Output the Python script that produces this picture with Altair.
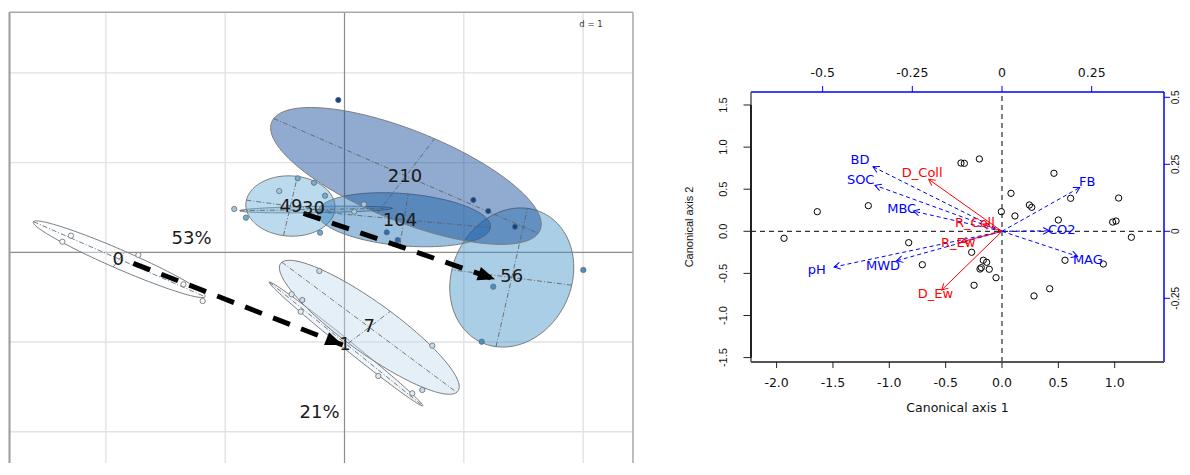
import math
import numpy as np
import pandas as pd
import altair as alt

# ====================== LEFT PANEL DATA (class ellipses) ======================
grp_names = ["0", "1", "7", "30", "49", "56", "104", "210"]
grp_colors = ["#F7FBFF", "#DEEBF7", "#C6DBEF", "#9ECAE1", "#6BAED6", "#4292C6", "#2171B5", "#084594"]
ell_cx = [-1.888, 0.013, 0.208, -0.238, -0.453, 1.402, 0.499, 0.515]
ell_cy = [-0.077, -1.022, -0.836, 0.477, 0.516, -0.281, 0.363, 0.851]
ell_a = [0.832, 0.943, 1.031, 0.640, 0.375, 0.782, 0.730, 1.280]
ell_b = [0.100, 0.045, 0.250, 0.035, 0.335, 0.510, 0.290, 0.480]
ell_angle = [-30.2, -47.0, -44.7, 1.2, -10.0, 80.3, -7.0, -30.0]
lab_x = [-1.896, 0.004, 0.208, -0.260, -0.448, 1.402, 0.465, 0.507]
lab_y = [-0.086, -1.033, -0.836, 0.479, 0.502, -0.279, 0.352, 0.836]

pt_group = ["0", "0", "0", "0", "0",
            "1", "1", "1", "1",
            "7", "7", "7", "7",
            "30", "30", "30", "30",
            "49", "49", "49", "49", "49",
            "56", "56", "56",
            "104", "104",
            "210", "210", "210", "210"]
pt_x = [-2.293, -2.365, -1.728, -1.189, -1.350,
        -0.443, -0.367, 0.283, 0.568,
        -0.211, 0.736, 0.652, -0.354,
        -0.924, 0.163, 0.082, -0.547,
        -0.392, -0.256, -0.163, -0.826, -0.205,
        2.002, 1.247, 1.150,
        0.354, 0.446,
        -0.052, 1.080, 1.205, 1.429]
pt_y = [0.185, 0.118, -0.030, -0.543, -0.357,
        -0.468, -0.662, -1.379, -1.572,
        -0.208, -1.041, -1.535, -0.532,
        0.483, 0.535, 0.453, 0.683,
        0.825, 0.776, 0.631, 0.386, 0.219,
        -0.197, -0.383, -0.997,
        0.223, 0.137,
        1.698, 0.583, 0.460, 0.285]

pct_text = ["53%", "21%"]
pct_x = [-1.282, -0.209]
pct_y = [0.145, -1.788]

traj_x0 = [-1.770, -0.343]
traj_y0 = [-0.123, 0.435]
traj_x1 = [-0.015, 1.262]
traj_y1 = [-1.033, -0.301]

grid_x = [-2, -1, 1, 2]
grid_y = [2, 1, -1, -2]
scale_note = "d = 1"

# ====================== RIGHT PANEL DATA (CCA biplot) ======================
site_x = [-1.934, -1.639, -1.186, -0.828, -0.707, -0.364, -0.334, -0.201, -0.269, -0.248,
          -0.166, -0.136, -0.184, -0.195, -0.113, -0.053, -0.006, 0.080, 0.115, 0.243,
          0.264, 0.284, 0.423, 0.461, 0.500, 0.559, 0.609, 0.899, 0.982, 1.012, 1.035, 1.148]
site_y = [-0.083, 0.233, 0.304, -0.135, -0.397, 0.811, 0.807, 0.859, -0.249, -0.641,
          -0.344, -0.368, -0.432, -0.448, -0.451, -0.551, 0.233, 0.451, 0.182, 0.312,
          0.285, -0.768, -0.682, 0.689, 0.134, -0.344, 0.392, -0.388, 0.110, 0.122, 0.395, -0.071]

env_names = ["BD", "SOC", "MBC", "pH", "MWD", "FB", "CO2", "MAG"]
env_x = [-1.145, -1.127, -0.787, -1.490, -0.935, 0.690, 0.420, 0.670]
env_y = [0.767, 0.546, 0.240, -0.424, -0.350, 0.520, 0.005, -0.297]
env_lx = [-1.260, -1.254, -0.890, -1.644, -1.056, 0.757, 0.530, 0.762]
env_ly = [0.849, 0.609, 0.263, -0.464, -0.412, 0.580, 0.015, -0.337]

resp_names = ["D_Coll", "R_Coll", "R_Ew", "D_Ew"]
resp_x = [-0.650, -0.170, -0.360, -0.535]
resp_y = [0.617, 0.085, -0.125, -0.697]
resp_lx = [-0.708, -0.240, -0.388, -0.590]
resp_ly = [0.689, 0.100, -0.135, -0.745]

bottom_ticks = [-2.0, -1.5, -1.0, -0.5, 0.0, 0.5, 1.0]
bottom_text = ["-2.0", "-1.5", "-1.0", "-0.5", "0.0", "0.5", "1.0"]
left_ticks = [-1.5, -1.0, -0.5, 0.0, 0.5, 1.0, 1.5]
left_text = ["-1.5", "-1.0", "-0.5", "0.0", "0.5", "1.0", "1.5"]
top_ticks = [-0.5, -0.25, 0.0, 0.25]
top_text = ["-0.5", "-0.25", "0", "0.25"]
right_ticks = [-0.25, 0.0, 0.25, 0.5]
right_text = ["-0.25", "0", "0.25", "0.5"]
x_title = "Canonical axis 1"
y_title = "Canonical axis 2"

# ====================== LAYOUT ======================
LW, LH = 632, 455
L_XDOM = [-2.8206, 2.4769]
L_YDOM = [-2.349, 2.7235]
L_FL, L_FR, L_FT = -2.808, 2.418, 2.676
L_FB = L_YDOM[0]

RW, RH = 502, 455
R_XDOM = [-2.8571, 1.5972]
R_YDOM = [-2.7518, 2.6520]
R_FL, R_FR, R_FT, R_FB = -2.2272, 1.4375, 1.6544, -1.5523
S_XDOM = [-0.89769, 0.50181]
S_YDOM = [-0.86455, 0.83321]

lsx = LW / (L_XDOM[1] - L_XDOM[0])
lsy = LH / (L_YDOM[1] - L_YDOM[0])
rsx = RW / (R_XDOM[1] - R_XDOM[0])
rsy = RH / (R_YDOM[1] - R_YDOM[0])


def screen_angle(x0, y0, x1, y1, sx, sy):
    return math.degrees(math.atan2(-(y1 - y0) * sy, (x1 - x0) * sx)) % 360


def QX(f, dom):
    return alt.X(f, type="quantitative", scale=alt.Scale(domain=dom, nice=False, zero=False), axis=None)


def QY(f, dom):
    return alt.Y(f, type="quantitative", scale=alt.Scale(domain=dom, nice=False, zero=False), axis=None)


def LX(f):
    return QX(f, L_XDOM)


def LY(f):
    return QY(f, L_YDOM)


# ---------------- left panel ----------------
vgrid = pd.DataFrame({"x": grid_x, "y0": L_FB, "y1": L_FT})
hgrid = pd.DataFrame({"y": grid_y, "x0": L_FL, "x1": L_FR})
left_layers = [
    alt.Chart(vgrid).mark_rule(color="#e2e2e2", strokeWidth=1.4).encode(x=LX("x"), y=LY("y0"), y2="y1"),
    alt.Chart(hgrid).mark_rule(color="#e2e2e2", strokeWidth=1.4).encode(y=LY("y"), x=LX("x0"), x2="x1"),
    alt.Chart(pd.DataFrame({"x": [0.0], "y0": [L_FB], "y1": [L_FT]})).mark_rule(color="#8c8c8c", strokeWidth=1.2).encode(x=LX("x"), y=LY("y0"), y2="y1"),
    alt.Chart(pd.DataFrame({"y": [0.0], "x0": [L_FL], "x1": [L_FR]})).mark_rule(color="#8c8c8c", strokeWidth=1.2).encode(y=LY("y"), x=LX("x0"), x2="x1"),
    alt.Chart(pd.DataFrame({"x": [L_FL], "y0": [L_FB], "y1": [L_FT]})).mark_rule(color="#9a9a9a", strokeWidth=2).encode(x=LX("x"), y=LY("y0"), y2="y1"),
    alt.Chart(pd.DataFrame({"x": [L_FR], "y0": [L_FB], "y1": [L_FT]})).mark_rule(color="#a8a8a8", strokeWidth=1.5).encode(x=LX("x"), y=LY("y0"), y2="y1"),
    alt.Chart(pd.DataFrame({"y": [L_FT], "x0": [L_FL], "x1": [L_FR]})).mark_rule(color="#a8a8a8", strokeWidth=1.5).encode(y=LY("y"), x=LX("x0"), x2="x1"),
]

tt = np.linspace(0, 2 * np.pi, 121)[:-1]
axis_rows = []
for g, col, cx, cy, a, b, ang in zip(grp_names, grp_colors, ell_cx, ell_cy, ell_a, ell_b, ell_angle):
    th = math.radians(ang)
    ex = cx + a * math.cos(th) * np.cos(tt) - b * math.sin(th) * np.sin(tt)
    ey = cy + a * math.sin(th) * np.cos(tt) + b * math.cos(th) * np.sin(tt)
    edf = pd.DataFrame({"x": ex, "y": ey, "i": np.arange(len(tt))})
    left_layers.append(
        alt.Chart(edf).mark_line(interpolate="linear-closed", fill=col, fillOpacity=0.45,
                                 stroke="#7d7d7d", strokeWidth=1)
        .encode(x=LX("x"), y=LY("y"), order="i:Q")
    )
    axis_rows.append(dict(x0=cx - a * math.cos(th), y0=cy - a * math.sin(th),
                          x1=cx + a * math.cos(th), y1=cy + a * math.sin(th)))
    if b > 0.06:
        axis_rows.append(dict(x0=cx + b * math.sin(th), y0=cy - b * math.cos(th),
                              x1=cx - b * math.sin(th), y1=cy + b * math.cos(th)))

left_layers.append(
    alt.Chart(pd.DataFrame(axis_rows)).mark_rule(color="#5a5a5a", strokeWidth=0.8, strokeDash=[5, 2, 1, 2])
    .encode(x=LX("x0"), y=LY("y0"), x2="x1", y2="y1")
)

pts = pd.DataFrame({"g": pt_group, "x": pt_x, "y": pt_y})
left_layers.append(
    alt.Chart(pts).mark_point(filled=True, size=28, stroke="#6a6a6a", strokeWidth=0.8, opacity=1)
    .encode(x=LX("x"), y=LY("y"),
            fill=alt.Fill("g:N", scale=alt.Scale(domain=grp_names, range=grp_colors), legend=None))
)

traj = pd.DataFrame({"x0": traj_x0, "y0": traj_y0, "x1": traj_x1, "y1": traj_y1})
traj["ang"] = [screen_angle(a, b, c, d, lsx, lsy) for a, b, c, d in zip(traj_x0, traj_y0, traj_x1, traj_y1)]
left_layers.append(
    alt.Chart(traj).mark_rule(color="black", strokeWidth=5, strokeDash=[18, 12])
    .encode(x=LX("x0"), y=LY("y0"), x2="x1", y2="y1")
)
left_layers.append(
    alt.Chart(traj).mark_point(shape="M 0 0 L -1 -0.4 L -1 0.4 Z", filled=True, color="black", size=1200, opacity=1)
    .encode(x=LX("x1"), y=LY("y1"), angle=alt.Angle("ang:Q", scale=None))
)

labs = pd.DataFrame({"t": grp_names, "x": lab_x, "y": lab_y})
left_layers.append(
    alt.Chart(labs).mark_text(font="DejaVu Sans", fontSize=18, color="#1a1a1a")
    .encode(x=LX("x"), y=LY("y"), text="t:N")
)
pct = pd.DataFrame({"t": pct_text, "x": pct_x, "y": pct_y})
left_layers.append(
    alt.Chart(pct).mark_text(font="DejaVu Sans", fontSize=18, color="#1a1a1a")
    .encode(x=LX("x"), y=LY("y"), text="t:N")
)
left_layers.append(
    alt.Chart(pd.DataFrame({"t": [scale_note], "x": [2.066], "y": [2.545]}))
    .mark_text(font="DejaVu Sans", fontSize=8.5, color="#333333")
    .encode(x=LX("x"), y=LY("y"), text="t:N")
)

left = alt.layer(*left_layers).properties(width=LW, height=LH)

# ---------------- right panel ----------------
def RX(f):
    return QX(f, R_XDOM)


def RY(f):
    return QY(f, R_YDOM)


def rule_v(x, y0, y1, **kw):
    return alt.Chart(pd.DataFrame({"x": [x], "y0": [y0], "y1": [y1]})).mark_rule(**kw).encode(x=RX("x"), y=RY("y0"), y2="y1")


def rule_h(y, x0, x1, **kw):
    return alt.Chart(pd.DataFrame({"y": [y], "x0": [x0], "x1": [x1]})).mark_rule(**kw).encode(y=RY("y"), x=RX("x0"), x2="x1")


bt = pd.DataFrame({"v": bottom_ticks, "t": bottom_text, "y0": R_FB, "y1": R_FB - 6 / rsy, "ly": R_FB - 20.7 / rsy})
lt = pd.DataFrame({"v": left_ticks, "t": left_text, "x0": R_FL, "x1": R_FL - 7.5 / rsx, "lx": R_FL - 27 / rsx})
titles_x = pd.DataFrame({"t": [x_title], "x": [R_FL + (R_FR - R_FL) / 2], "y": [R_FB - 46 / rsy]})
titles_y = pd.DataFrame({"t": [y_title], "x": [R_FL - 61 / rsx], "y": [R_FB + (R_FT - R_FB) / 2]})

right_layers = [
    rule_v(0.0, R_FB, R_FT, color="black", strokeWidth=1, strokeDash=[5, 4]),
    rule_h(0.0, R_FL, R_FR, color="black", strokeWidth=1, strokeDash=[5, 4]),
    rule_h(R_FT, R_FL, R_FR, color="blue", strokeWidth=1.5),
    rule_v(R_FR, R_FB, R_FT, color="blue", strokeWidth=1.5),
    rule_h(R_FB, R_FL, R_FR, color="#555555", strokeWidth=2),
    rule_v(R_FL, R_FB, R_FT, color="#555555", strokeWidth=1.5),
    rule_v(R_FL, left_ticks[0], left_ticks[-1], color="#222222", strokeWidth=2),
    alt.Chart(bt).mark_rule(color="#222222", strokeWidth=1).encode(x=RX("v"), y=RY("y0"), y2="y1"),
    alt.Chart(bt).mark_text(font="DejaVu Sans", fontSize=12.5, color="#111111", baseline="middle")
    .encode(x=RX("v"), y=RY("ly"), text="t:N"),
    alt.Chart(lt).mark_rule(color="#222222", strokeWidth=1).encode(y=RY("v"), x=RX("x0"), x2="x1"),
    alt.Chart(lt).mark_text(font="Liberation Sans", fontSize=11, color="#111111", angle=270, baseline="middle")
    .encode(y=RY("v"), x=RX("lx"), text="t:N"),
    alt.Chart(titles_x).mark_text(font="DejaVu Sans", fontSize=12.5, color="#111111", baseline="middle")
    .encode(x=RX("x"), y=RY("y"), text="t:N"),
    alt.Chart(titles_y).mark_text(font="Liberation Sans", fontSize=11, color="#111111", angle=270, baseline="middle")
    .encode(x=RX("x"), y=RY("y"), text="t:N"),
]

OPEN_HEAD = "M -1 -0.55 L 0 0 L -1 0.55"
env = pd.DataFrame({"t": env_names, "x0": 0.0, "y0": 0.0, "x1": env_x, "y1": env_y, "lx": env_lx, "ly": env_ly})
env["ang"] = [screen_angle(0, 0, a, b, rsx, rsy) for a, b in zip(env_x, env_y)]
resp = pd.DataFrame({"t": resp_names, "x0": 0.0, "y0": 0.0, "x1": resp_x, "y1": resp_y, "lx": resp_lx, "ly": resp_ly})
resp["ang"] = [screen_angle(0, 0, a, b, rsx, rsy) for a, b in zip(resp_x, resp_y)]

right_layers += [
    alt.Chart(env).mark_rule(color="blue", strokeWidth=1, strokeDash=[4, 3]).encode(x=RX("x0"), y=RY("y0"), x2="x1", y2="y1"),
    alt.Chart(env).mark_point(shape=OPEN_HEAD, filled=False, color="blue", strokeWidth=1, size=150, opacity=1)
    .encode(x=RX("x1"), y=RY("y1"), angle=alt.Angle("ang:Q", scale=None)),
    alt.Chart(resp).mark_rule(color="red", strokeWidth=1).encode(x=RX("x0"), y=RY("y0"), x2="x1", y2="y1"),
    alt.Chart(resp).mark_point(shape=OPEN_HEAD, filled=False, color="red", strokeWidth=1, size=150, opacity=1)
    .encode(x=RX("x1"), y=RY("y1"), angle=alt.Angle("ang:Q", scale=None)),
    alt.Chart(pd.DataFrame({"x": site_x, "y": site_y})).mark_point(shape="circle", filled=False, color="black", strokeWidth=1, size=40, opacity=1)
    .encode(x=RX("x"), y=RY("y")),
    alt.Chart(env).mark_text(font="DejaVu Sans", fontSize=13, color="blue").encode(x=RX("lx"), y=RY("ly"), text="t:N"),
    alt.Chart(resp).mark_text(font="DejaVu Sans", fontSize=13, color="red").encode(x=RX("lx"), y=RY("ly"), text="t:N"),
]
primary = alt.layer(*right_layers)

# secondary (top / right, blue) scale layers
tp = pd.DataFrame({"v": top_ticks, "t": top_text, "y0": R_FT, "y1": R_FT + 6 / rsy, "ly": R_FT + 18.7 / rsy})
top_layer = alt.layer(
    alt.Chart(tp).mark_rule(color="blue", strokeWidth=1).encode(x=QX("v", S_XDOM), y=QY("y0", R_YDOM), y2="y1"),
    alt.Chart(tp).mark_text(font="DejaVu Sans", fontSize=12.5, color="#111111", baseline="middle")
    .encode(x=QX("v", S_XDOM), y=QY("ly", R_YDOM), text="t:N"),
)
rp = pd.DataFrame({"v": right_ticks, "t": right_text, "x0": R_FR, "x1": R_FR + 6 / rsx, "lx": R_FR + 7 / rsx})
right_axis_layer = alt.layer(
    alt.Chart(rp).mark_rule(color="blue", strokeWidth=1).encode(y=QY("v", S_YDOM), x=QX("x0", R_XDOM), x2="x1"),
    alt.Chart(rp).mark_text(font="Liberation Sans", fontSize=10, color="#111111", angle=270,
                            align="center", baseline="top")
    .encode(y=QY("v", S_YDOM), x=QX("lx", R_XDOM), text="t:N"),
)

right = alt.layer(primary, top_layer, right_axis_layer).resolve_scale(x="independent", y="independent").properties(width=RW, height=RH)

chart = alt.hconcat(left, right, spacing=40, bounds="flush").properties(padding=0).configure_view(stroke=None)
chart.save("out.html", embed_options={"renderer": "svg", "actions": False})
